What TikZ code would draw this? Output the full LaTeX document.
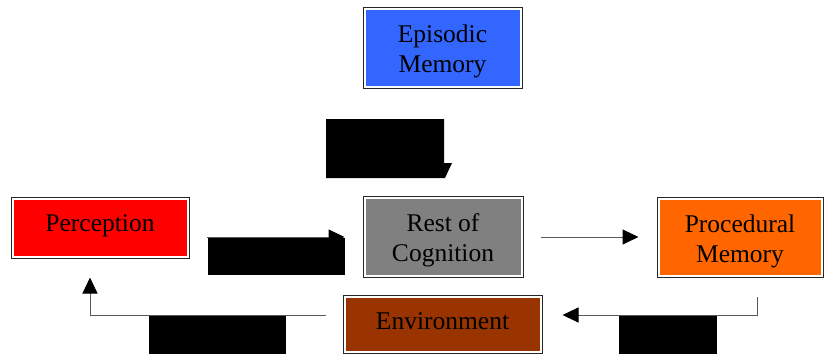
\documentclass[tikz,border=0pt]{standalone}
\usepackage{fontspec}
\setmainfont{Liberation Serif}
\usetikzlibrary{arrows.meta}
\definecolor{epiblue}{HTML}{3366FF}
\definecolor{percred}{HTML}{FF0000}
\definecolor{restgray}{HTML}{808080}
\definecolor{procorange}{HTML}{FF6600}
\definecolor{envbrown}{HTML}{993300}
\tikzset{
  box/.style={draw=black!85, line width=1pt, fill=white, inner sep=0pt,
    path picture={\fill[#1] ([shift={(2.5pt,-2.5pt)}]path picture bounding box.north west)
      rectangle ([shift={(-2.5pt,2.5pt)}]path picture bounding box.south east);}},
  boxtext/.style={align=center, inner sep=0pt, font=\fontsize{25.5}{30}\selectfont},
  conn/.style={draw=black!65, line width=1pt, -{Triangle[length=16pt,width=15pt,color=black]}},
  blob/.style={fill=black, draw=none}
}
\begin{document}
\begin{tikzpicture}[x=1pt,y=-1pt]
\clip (0,0) rectangle (824,354);
\fill[white] (0,0) rectangle (824,354);
\node[box=epiblue, minimum width=159pt, minimum height=81pt,
  label={[boxtext, yshift=-4pt]center:Episodic\\Memory}] (epi) at (442.5,47.5) {};
\node[box=percred, minimum width=178pt, minimum height=61pt,
  label={[boxtext, yshift=1.5pt]center:Perception}] (perc) at (100,227.5) {};
\node[box=restgray, minimum width=160pt, minimum height=81pt,
  label={[boxtext, yshift=-4pt]center:Rest of\\Cognition}] (rest) at (443,236.5) {};
\node[box=procorange, minimum width=166pt, minimum height=80pt,
  label={[boxtext, yshift=-4pt]center:Procedural\\Memory}] (proc) at (740,237) {};
\node[box=envbrown, minimum width=199pt, minimum height=58pt,
  label={[boxtext, yshift=3pt]center:Environment}] (env) at (442.5,324) {};
% connectors
\coordinate (c1) at (207,237);
\draw[conn] (c1) -- ([xshift=-18pt]rest.west |- c1);
\coordinate (c2) at (541,237);
\draw[conn] (c2) -- ([xshift=-18pt]proc.west |- c2);
\coordinate (c3) at (757,297);
\coordinate (c3b) at (757,315);
\draw[conn] (c3) -- (c3b) -- ([xshift=20pt]env.east |- c3b);
\coordinate (c4) at (326,315);
\coordinate (c4b) at (90,315);
\draw[conn] (c4) -- (c4b) -- ([yshift=-19pt]c4b |- perc.south);
% black blocks
\fill[blob] (326,119) -- (444,119) -- (444,163) -- (452,163) -- (445,178) -- (326,178) -- cycle;
\fill[blob] (207.5,237.5) rectangle (345,275);
\fill[blob] (149,315.5) rectangle (286,354);
\fill[blob] (619,316) rectangle (717,354);
\end{tikzpicture}
\end{document}
